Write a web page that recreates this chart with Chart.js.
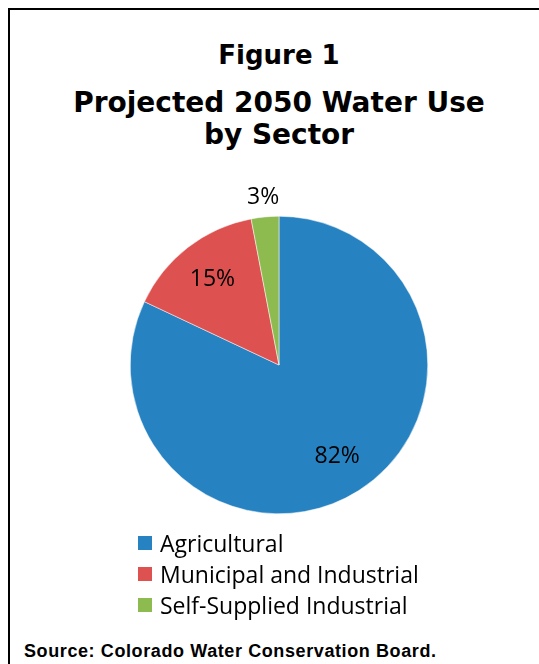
<!DOCTYPE html>
<html>
<head>
<meta charset="utf-8">
<script src="https://cdn.jsdelivr.net/npm/chart.js@4.4.0/dist/chart.umd.min.js"></script>
<style>
  body { margin: 0; background: #fff; width: 539px; height: 664px; position: relative; overflow: hidden; }
  .frame { position: absolute; left: 8px; top: 8px; width: 540px; height: 700px; border-top: 2px solid #000; border-left: 2px solid #000; }
  .title { position: absolute; left: 0; width: 558px; text-align: center; font-family: "DejaVu Sans", sans-serif; font-weight: bold; color: #000; white-space: nowrap; }
  #fig { top: 40px; font-size: 26px; }
  #t1 { top: 86px; font-size: 28px; }
  #t2 { top: 118px; font-size: 28px; }
  #chartBox { position: absolute; left: 79px; top: 165px; width: 400px; height: 400px; }
  #legend { position: absolute; left: 138px; top: 527px; font-family: "Open Sans", sans-serif; font-size: 23px; color: #000; }
  #legend .item { height: 31px; display: flex; align-items: center; }
  #legend .box { width: 14px; height: 14px; margin-right: 8px; }
  #source { position: absolute; left: 24px; top: 641px; font-family: "Liberation Sans", Arial, sans-serif; font-weight: bold; font-size: 18px; letter-spacing: 0.6px; color: #000; white-space: nowrap; }
</style>
</head>
<body>
<div class="frame"></div>
<div class="title" id="fig">Figure 1</div>
<div class="title" id="t1">Projected 2050 Water Use</div>
<div class="title" id="t2">by Sector</div>
<div id="chartBox"><canvas id="pieChart"></canvas></div>
<div id="legend"></div>
<div id="source">Source: Colorado Water Conservation Board.</div>
<script>
// Sectors and their share of projected 2050 water use (percent)
const sectors = ['Agricultural', 'Municipal and Industrial', 'Self-Supplied Industrial'];
const shares = [82, 15, 3];
const sliceColors = ['#2682C1', '#DD5151', '#8DBB4F'];

// Draw the percent labels on (or just outside) each slice
const sliceLabels = {
    id: 'sliceLabels',
    afterDatasetsDraw(chart) {
        const ctx = chart.ctx;
        const meta = chart.getDatasetMeta(0);
        const data = chart.data.datasets[0].data;
        const total = data.reduce((a, b) => a + b, 0);
        ctx.save();
        ctx.font = '23px "Open Sans", sans-serif';
        ctx.fillStyle = '#000';
        ctx.textAlign = 'center';
        ctx.textBaseline = 'middle';
        meta.data.forEach((arc, i) => {
            const p = arc.getProps(['x', 'y', 'startAngle', 'endAngle', 'outerRadius'], true);
            const mid = (p.startAngle + p.endAngle) / 2;
            const small = data[i] / total < 0.05;
            const r = small ? p.outerRadius + 20 : p.outerRadius * 0.73;
            ctx.fillText(data[i] + '%', p.x + Math.cos(mid) * r, p.y + Math.sin(mid) * r);
        });
        ctx.restore();
    }
};

new Chart(document.getElementById('pieChart'), {
    type: 'pie',
    data: {
        labels: sectors,
        datasets: [{
            data: shares,
            backgroundColor: sliceColors,
            borderColor: '#ffffff',
            borderWidth: 0.5,
            hoverOffset: 0
        }]
    },
    options: {
        responsive: true,
        maintainAspectRatio: false,
        animation: false,
        events: [],
        layout: { padding: 51 },
        plugins: {
            legend: { display: false },
            tooltip: { enabled: false }
        }
    },
    plugins: [sliceLabels]
});

// Build the legend from the same arrays
const legendEl = document.getElementById('legend');
sectors.forEach((name, i) => {
    const item = document.createElement('div');
    item.className = 'item';
    item.innerHTML = `<span class="box" style="background:${sliceColors[i]}"></span><span>${name}</span>`;
    legendEl.appendChild(item);
});
</script>
</body>
</html>
